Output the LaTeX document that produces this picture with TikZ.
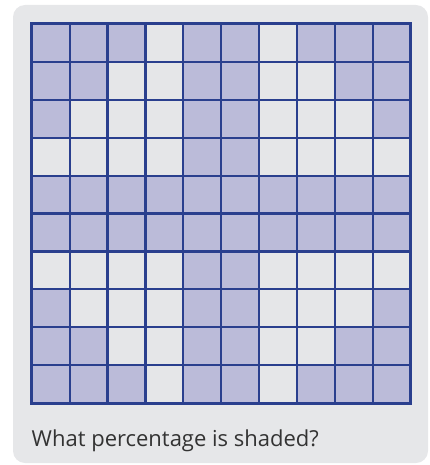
\documentclass[tikz,border=0pt]{standalone}
\usepackage{fontspec}
\setmainfont{Open Sans}
\definecolor{panel}{HTML}{E6E7E9}
\definecolor{shade}{HTML}{BBBBD9}
\definecolor{cellw}{HTML}{E5E6E8}
\definecolor{gridline}{HTML}{2A3F8E}
\definecolor{txt}{HTML}{333333}
\begin{document}
\begin{tikzpicture}[x=1pt,y=-1pt,
  cellbox/.style={fill=shade, draw=none},
  gridstyle/.style={draw=gridline, line width=2.2pt},
  borderstyle/.style={draw=gridline, line width=3pt}]
\useasboundingbox (0,0) rectangle (430,465);
\fill[panel, rounded corners=12pt] (13,5) rectangle (428,463);
\def\cs{37.9}
\def\gx{31.7}
\def\gy{24}
\fill[cellw] (\gx,\gy) rectangle ({\gx+10*\cs},{\gy+10*\cs});
% shaded cells: row, then list of columns (0-based)
\foreach \r/\cols in {
  0/{0,1,2,4,5,7,8,9},
  1/{0,1,4,5,8,9},
  2/{0,4,5,9},
  3/{4,5},
  4/{0,1,2,3,4,5,6,7,8,9},
  5/{0,1,2,3,4,5,6,7,8,9},
  6/{4,5},
  7/{0,4,5,9},
  8/{0,1,4,5,8,9},
  9/{0,1,2,4,5,7,8,9}}{
  \foreach \c in \cols {
    \fill[cellbox] ({\gx+\c*\cs},{\gy+\r*\cs}) rectangle ++(\cs,\cs);
  }
}
\foreach \i in {1,...,9} {
  \draw[gridstyle] ({\gx+\i*\cs},\gy) -- ++(0,{10*\cs});
  \draw[gridstyle] (\gx,{\gy+\i*\cs}) -- ++({10*\cs},0);
}
\draw[borderstyle] (\gx,\gy) rectangle ({\gx+10*\cs},{\gy+10*\cs});
\node[anchor=base west, inner sep=0pt, text=txt, font=\fontsize{22}{26}\selectfont] (q) at (31.5,446) {What percentage is shaded?};
\end{tikzpicture}
\end{document}
